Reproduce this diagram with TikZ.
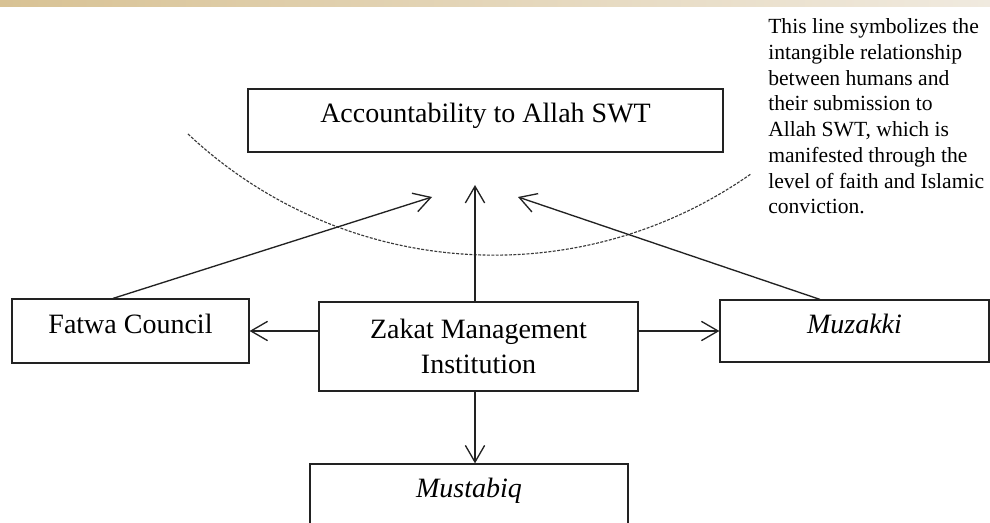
\documentclass[tikz,border=0pt]{standalone}
\usepackage{fontspec}
\setmainfont{Liberation Serif}
\usepackage{xcolor}
\usepackage{tikz}
\usetikzlibrary{arrows.meta,calc}
\definecolor{band}{HTML}{D8C294}
\definecolor{bandlight}{HTML}{F0EADF}
\definecolor{ink}{HTML}{222222}
\definecolor{swingc}{HTML}{3A3A3A}
\tikzset{
  box/.style    ={draw=ink, line width=0.95pt, fill=white, inner sep=2pt,
                  font=\fontsize{21}{25.7}\selectfont, align=center},
  oneline/.style={text height=0.69em, text depth=0.36em},
  link/.style   ={draw=ink, line width=1pt, -{Straight Barb[length=12.5pt,width=14.5pt]}},
  swing/.style  ={draw=swingc, line width=0.85pt, dash pattern=on 2.2pt off 1.1pt},
  note/.style   ={font=\fontsize{16.2}{19.3}\selectfont, align=left, inner sep=0pt,
                  anchor=north west},
}

\begin{document}
\begin{tikzpicture}[x=0.75pt,y=0.75pt]
  % ---------------------------------------------------------------- frame
  \path[use as bounding box, fill=white] (0,0) rectangle (990,522);
  \clip (0,0) rectangle (990,522);
  \shade[left color=band, right color=bandlight] (0,515) rectangle (990,522);

  % ---------------------------------------------------------------- boxes
  \node[box, oneline, minimum width=356.25pt, minimum height=47.25pt] (acc) at (485.5,401.5)
        {Accountability to Allah SWT};
  \node[box, oneline, minimum width=177.75pt, minimum height=48pt]   (fatwa) at (130.5,191)
        {Fatwa Council};
  \node[box, minimum width=239.25pt, minimum height=66.75pt]          (zakat) at (478.5,175.5)
        {Zakat Management\\Institution};
  \node[box, oneline, minimum width=201.75pt, minimum height=46.5pt]  (muzakki) at (854.5,191)
        {\itshape Muzakki};
  \node[box, oneline, minimum width=238.5pt, minimum height=47.25pt]  (mustabiq) at (469,26.5)
        {\itshape Mustabiq};

  % ---------------------------------------------------------------- note
  \node[note] (remark) at (768,503.5)
        {This line symbolizes the\\
         intangible relationship\\
         between humans and\\
         their submission to\\
         Allah SWT, which is\\
         manifested through the\\
         level of faith and Islamic\\
         conviction.};

  % ---------------------------------------------------------------- arc
  % dashed boundary under the top box
  \draw[swing] (188,388) arc[start angle=226.8, end angle=305, radius=335.25pt];

  % ---------------------------------------------------------------- links
  \coordinate (tipL) at (432,325);
  \coordinate (tipC) at (475,337);
  \coordinate (tipR) at (518,325);
  \draw[link] ([xshift=-13pt]fatwa.north) -- (tipL);
  \draw[link] ([xshift=-26pt]muzakki.north) -- (tipR);
  \draw[link] (tipC |- zakat.north) -- (tipC);
  \draw[link] (zakat.west |- fatwa.east) -- (fatwa.east);
  \draw[link] (zakat.east |- muzakki.west) -- (muzakki.west);
  \draw[link] (tipC |- zakat.south) -- (tipC |- mustabiq.north);
\end{tikzpicture}
\end{document}
